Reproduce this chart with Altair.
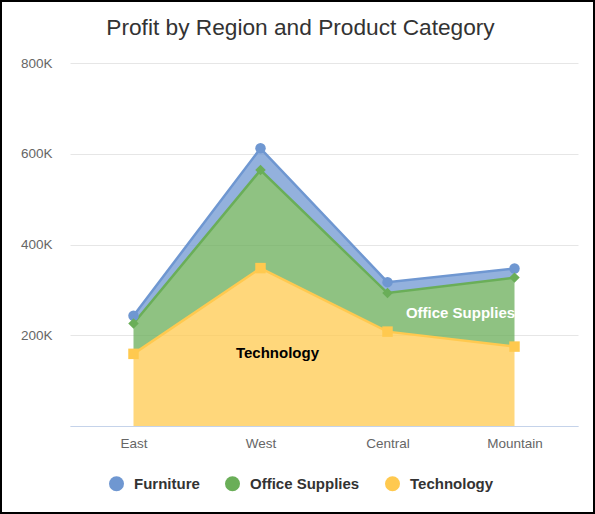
import altair as alt
import pandas as pd

regions = ["East", "West", "Central", "Mountain"]
categories = ["Furniture", "Office Supplies", "Technology"]
furniture = [17000, 48000, 24000, 20000]
office_supplies = [67000, 216000, 85000, 152000]
technology = [159000, 348000, 208000, 175000]
stack_rank = {"Technology": 0, "Office Supplies": 1, "Furniture": 2}
line_colors = ["#6F97D1", "#6AAE58", "#FFC94F"]
shapes = ["circle", "diamond", "square"]
y_ticks = [0, 200000, 400000, 600000, 800000]

label_texts = ["Technology", "Office Supplies"]
label_regions = ["West", "Central"]
label_values = [161000, 249000]

rows = []
for cat, vals in zip(categories, [furniture, office_supplies, technology]):
    for r, v in zip(regions, vals):
        rows.append({"Region": r, "Category": cat, "Profit": v, "rank": stack_rank[cat]})
df = pd.DataFrame(rows)

labels_df = pd.DataFrame({"text": label_texts, "Region": label_regions, "y": label_values})

FONT = "Liberation Sans"

legend = alt.Legend(
    title=None, orient="none", direction="horizontal", legendX=39, legendY=413,
    symbolType="circle", symbolSize=225, symbolOpacity=1, symbolStrokeWidth=0,
    labelFont=FONT, labelFontSize=15, labelFontWeight="bold", labelColor="#333333",
    labelOffset=10, columnPadding=25,
)
color = alt.Color("Category:N", scale=alt.Scale(domain=categories, range=line_colors), legend=legend)
xenc = alt.X("Region:N", sort=regions, scale=alt.Scale(type="point", padding=0.5),
             axis=alt.Axis(title=None, labelAngle=0, ticks=False, labelPadding=10,
                           labelFont=FONT, labelFontSize=13.5, labelColor="#666666",
                           domainColor="#C5D3EA", domainWidth=1, grid=False))
yenc = alt.Y("Profit:Q", stack="zero", scale=alt.Scale(domain=[0, 800000], nice=False),
             axis=alt.Axis(title=None, values=y_ticks, ticks=False, domain=False,
                           labelExpr="datum.value == 0 ? '' : format(datum.value/1000, 'd') + 'K'",
                           labelFont=FONT, labelFontSize=13.5, labelColor="#666666", labelPadding=18,
                           gridColor="#E6E6E6", gridWidth=1))
order = alt.Order("rank:Q", sort="ascending")

base = alt.Chart(df)
area = base.mark_area(opacity=0.75).encode(x=xenc, y=yenc, color=color, order=order)
line = base.mark_line(strokeWidth=2.5).encode(x=xenc, y=yenc, color=color, order=order,
                                              detail="Category:N")

point_layers = []
for cat, col, shp in zip(categories, line_colors, shapes):
    p = base.transform_stack(
        stack="Profit", groupby=["Region"], as_=["y0", "y1"],
        sort=[alt.SortField("rank", order="ascending")],
    ).transform_filter(alt.datum.Category == cat).mark_point(
        filled=True, opacity=1, size=110, shape=shp, color=col
    ).encode(x=alt.X("Region:N", sort=regions), y=alt.Y("y1:Q"))
    point_layers.append(p)

lab_tech = alt.Chart(labels_df[labels_df.text == "Technology"]).mark_text(
    font=FONT, fontSize=15, fontWeight="bold", color="#000000", dx=17
).encode(x=alt.X("Region:N", sort=regions), y=alt.Y("y:Q"), text="text:N")
lab_os = alt.Chart(labels_df[labels_df.text == "Office Supplies"]).mark_text(
    font=FONT, fontSize=15, fontWeight="bold", color="#FFFFFF", dx=73
).encode(x=alt.X("Region:N", sort=regions), y=alt.Y("y:Q"), text="text:N")

border = alt.Chart(pd.DataFrame({"b": [1]})).mark_rect(
    fill=None, stroke="#000000", strokeWidth=2, clip=False
).encode(x=alt.value(-69), x2=alt.value(524), y=alt.value(-62), y2=alt.value(450))

chart = alt.layer(area, line, *point_layers, lab_tech, lab_os, border).properties(
    width=508, height=363,
    autosize=alt.AutoSizeParams(type="none"),
    padding={"left": 70, "top": 63, "right": 17, "bottom": 88},
    title=alt.TitleParams("Profit by Region and Product Category", font=FONT, fontSize=22.7,
                          fontWeight="normal", color="#333333", anchor="middle",
                          baseline="bottom", offset=0, dy=63, dx=-23.5),
).configure(background="#FFFFFF").configure_view(stroke=None)

chart.save("out.html", embed_options={"renderer": "svg", "actions": False})
